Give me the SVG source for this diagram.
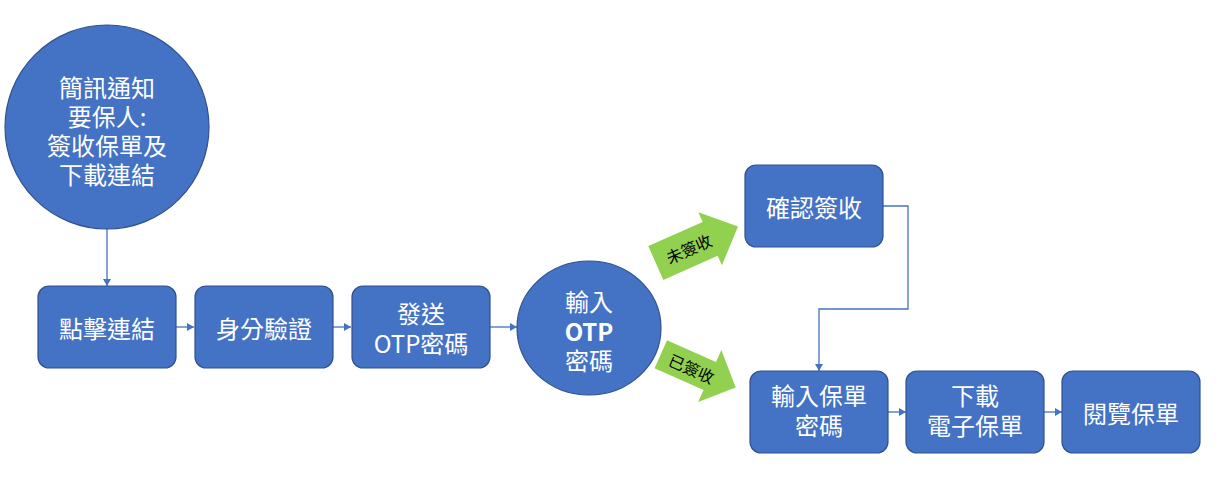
<svg xmlns="http://www.w3.org/2000/svg" width="1219" height="491" viewBox="0 0 1219 491">
<style>
.n{fill:#4472C4;stroke:#2F528F;stroke-width:1.2}
.t{fill:#fff;font-family:"Noto Sans CJK TC","Noto Sans",sans-serif;font-size:24px;text-anchor:middle;dominant-baseline:central}
.c{fill:none;stroke:#4472C4;stroke-width:1.3}
.g{fill:#92D050}
.gt{fill:#000;font-family:"Noto Sans CJK TC",sans-serif;font-size:16px;text-anchor:middle;dominant-baseline:central}
</style>
<defs>
<marker id="ah" markerUnits="userSpaceOnUse" markerWidth="10" markerHeight="10" refX="7" refY="4" orient="auto">
<path d="M0,0 L7,4 L0,8 Z" fill="#4472C4"/>
</marker>
</defs>
<rect width="1219" height="491" fill="#fff"/>
<g id="connectors">
<line class="c" x1="107" y1="229" x2="107" y2="286" marker-end="url(#ah)"/>
<line class="c" x1="176" y1="327" x2="194" y2="327" marker-end="url(#ah)"/>
<line class="c" x1="333" y1="327" x2="351" y2="327" marker-end="url(#ah)"/>
<line class="c" x1="490" y1="327" x2="517" y2="327" marker-end="url(#ah)"/>
<path class="c" d="M883,206 H908 V309 H819 V371" marker-end="url(#ah)"/>
<line class="c" x1="888" y1="412" x2="906" y2="412" marker-end="url(#ah)"/>
<line class="c" x1="1044" y1="412" x2="1062" y2="412" marker-end="url(#ah)"/>
</g>
<g id="sms">
<circle class="n" cx="107" cy="127" r="102"/>
<text class="t"><tspan x="107" y="86">簡訊通知</tspan><tspan x="107" y="115">要保人:</tspan><tspan x="107" y="144">簽收保單及</tspan><tspan x="107" y="173">下載連結</tspan></text>
</g>
<g id="click">
<rect class="n" x="38" y="286" width="138" height="82" rx="11"/>
<text class="t" x="107" y="327">點擊連結</text>
</g>
<g id="verify">
<rect class="n" x="195" y="286" width="138" height="82" rx="11"/>
<text class="t" x="264" y="327">身分驗證</text>
</g>
<g id="sendotp">
<rect class="n" x="352" y="286" width="138" height="82" rx="11"/>
<text class="t"><tspan x="421" y="312">發送</tspan><tspan x="421" y="342">OTP密碼</tspan></text>
</g>
<g id="inputotp">
<ellipse class="n" cx="589" cy="328" rx="72" ry="67"/>
<text class="t"><tspan x="589" y="300">輸入</tspan><tspan x="589" y="330" font-weight="bold">OTP</tspan><tspan x="589" y="359">密碼</tspan></text>
</g>
<g id="unsigned">
<g transform="translate(655.8,263) rotate(-24)">
<polygon class="g" points="0,-18.5 59.5,-18.5 59.5,-29 90,0 59.5,29 59.5,18.5 0,18.5"/>
<text class="gt" x="36" y="0">未簽收</text>
</g>
</g>
<g id="signed">
<g transform="translate(660.8,354.2) rotate(24)">
<polygon class="g" points="0,-15.3 53.6,-15.3 53.6,-28.5 82,0 53.6,28.5 53.6,15.3 0,15.3"/>
<text class="gt" x="34" y="0">已簽收</text>
</g>
</g>
<g id="confirm">
<rect class="n" x="745" y="165" width="138" height="82" rx="11"/>
<text class="t" x="814" y="206">確認簽收</text>
</g>
<g id="policypwd">
<rect class="n" x="750" y="371" width="138" height="82" rx="11"/>
<text class="t"><tspan x="819" y="394">輸入保單</tspan><tspan x="819" y="424">密碼</tspan></text>
</g>
<g id="download">
<rect class="n" x="906" y="371" width="138" height="82" rx="11"/>
<text class="t"><tspan x="975" y="394">下載</tspan><tspan x="975" y="424">電子保單</tspan></text>
</g>
<g id="view">
<rect class="n" x="1062" y="371" width="138" height="82" rx="11"/>
<text class="t" x="1131" y="412">閱覽保單</text>
</g>
</svg>
